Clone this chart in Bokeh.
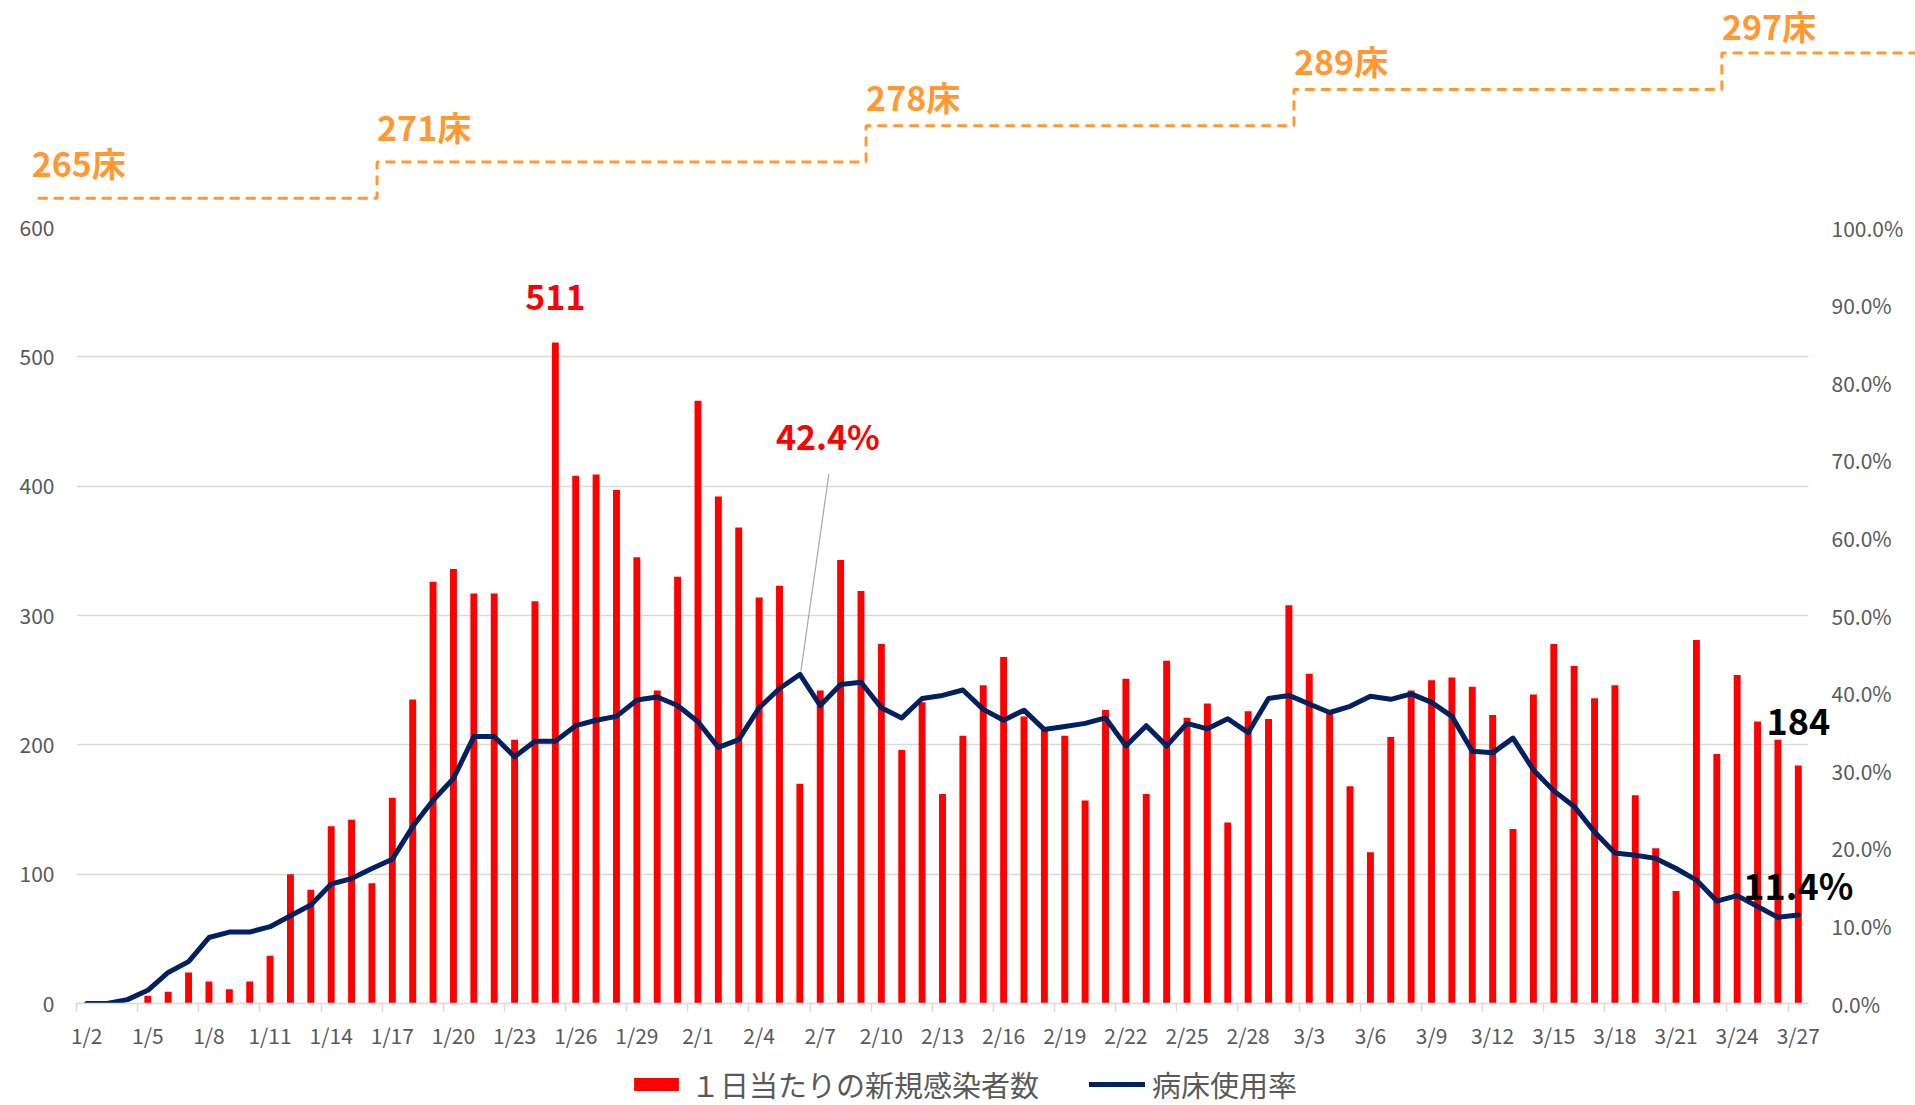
import pandas as pd
from bokeh.plotting import figure
from bokeh.models import (Range1d, LinearAxis, FixedTicker, NumeralTickFormatter,
                          Label, Legend, LegendItem, Grid, BoxAnnotation)
from bokeh.layouts import column
from bokeh.embed import file_html
from bokeh.resources import INLINE
from bokeh.core.properties import value

# ---------------- data ----------------
dates = [f"{d.month}/{d.day}" for d in pd.date_range("2021-01-02", "2021-03-27")]

new_cases = [0, 0, 0, 6, 9, 24, 17, 11, 17, 37,
             100, 88, 137, 142, 93, 159, 235, 326, 336, 317,
             317, 204, 311, 511, 408, 409, 397, 345, 242, 330,
             466, 392, 368, 314, 323, 170, 242, 343, 319, 278,
             196, 233, 162, 207, 246, 268, 222, 212, 207, 157,
             227, 251, 162, 265, 221, 232, 140, 226, 220, 308,
             255, 224, 168, 117, 206, 242, 250, 252, 245, 223,
             135, 239, 278, 261, 236, 246, 161, 120, 87, 281,
             193, 254, 218, 204, 184]

bed_rate = [0.0, 0.0, 0.5, 1.7, 4.0, 5.4, 8.5, 9.2, 9.2, 9.9,
            11.3, 12.7, 15.4, 16.1, 17.4, 18.6, 22.8, 26.2, 29.0, 34.4,
            34.4, 31.8, 33.8, 33.8, 35.8, 36.5, 37.0, 39.1, 39.5, 38.4,
            36.3, 33.0, 34.0, 38.1, 40.6, 42.4, 38.4, 41.1, 41.4, 38.1,
            36.8, 39.3, 39.7, 40.4, 37.9, 36.5, 37.8, 35.3, 35.7, 36.1,
            36.8, 33.2, 35.8, 33.2, 36.1, 35.4, 36.7, 34.9, 39.3, 39.7,
            38.6, 37.5, 38.3, 39.6, 39.2, 39.9, 38.8, 37.0, 32.5, 32.3,
            34.2, 30.1, 27.4, 25.4, 22.1, 19.4, 19.1, 18.7, 17.4, 15.9,
            13.2, 13.9, 12.5, 11.1, 11.4]

bed_counts = [265, 271, 278, 289, 297]
bed_change_dates = ["1/17", "2/10", "3/3", "3/24"]

left_ticks = [0, 100, 200, 300, 400, 500, 600]
right_ticks = [0.0, 0.1, 0.2, 0.3, 0.4, 0.5, 0.6, 0.7, 0.8, 0.9, 1.0]
tick_step = 3

series_bar = "１日当たりの新規感染者数"
series_line = "病床使用率"

# ---------------- style / layout ----------------
FONT = "Noto Sans CJK JP"
RED = "#FF0000"
NAVY = "#002060"
ORANGE = "#FF9933"
GRAY_TXT = "#595959"
GRID = "#D9D9D9"

W = 1915
TOP_H = 205          # strip with the bed-count steps
MAIN_H = 847
LEG_H = 53           # strip with the legend
FRAME_LEFT, FRAME_RIGHT = 76, 1808        # plot area (category axis extent)
FRAME_TOP, FRAME_H = 227, 778
EXTRA_RIGHT = 52     # extra frame room for the end labels
n = len(dates)
idx = list(range(n))
px_day = (FRAME_RIGHT - FRAME_LEFT) / n
x_hi = n - 0.5 + EXTRA_RIGHT / px_day
step_label_dy = [-36, -36, -29, -29, -28]

# ---------------- main chart ----------------
p = figure(width=W, height=MAIN_H, x_range=Range1d(-0.5, x_hi), y_range=Range1d(0, 600),
           output_backend="svg", toolbar_location=None, x_axis_type=None, y_axis_type=None,
           min_border_left=FRAME_LEFT, min_border_right=W - FRAME_RIGHT - EXTRA_RIGHT,
           min_border_top=FRAME_TOP - TOP_H,
           min_border_bottom=MAIN_H - (FRAME_TOP - TOP_H) - FRAME_H)
p.outline_line_color = None
p.frame_align = False
p.extra_y_ranges = {"pct": Range1d(0, 1)}

yl = LinearAxis(ticker=FixedTicker(ticks=left_ticks), axis_line_color=None,
                major_tick_line_color=None, minor_tick_line_color=None,
                major_label_standoff=16, major_label_text_font_size="21px",
                major_label_text_color=GRAY_TXT, major_label_text_font=FONT)
p.add_layout(yl, "left")
yr = LinearAxis(y_range_name="pct", ticker=FixedTicker(ticks=right_ticks),
                formatter=NumeralTickFormatter(format="0.0%"), axis_line_color=None,
                major_tick_line_color=None, minor_tick_line_color=None,
                major_label_standoff=17 - EXTRA_RIGHT, major_label_text_font_size="21px",
                major_label_text_color=GRAY_TXT, major_label_text_font=FONT)
p.add_layout(yr, "right")

label_idx = list(range(0, n, tick_step))
xa = LinearAxis(ticker=FixedTicker(ticks=label_idx, minor_ticks=[i - 0.5 for i in label_idx]),
                major_label_overrides={i: dates[i] for i in label_idx},
                bounds=(-0.5, n - 0.5),
                axis_line_color=GRID, axis_line_width=1.5,
                major_tick_line_color=None, major_tick_out=0, major_tick_in=0,
                minor_tick_line_color=GRID, minor_tick_line_width=1.5,
                minor_tick_out=8, minor_tick_in=0,
                major_label_standoff=8, major_label_text_font_size="21px",
                major_label_text_color=GRAY_TXT, major_label_text_font=FONT)
p.add_layout(xa, "below")

p.add_layout(Grid(dimension=1, ticker=yl.ticker, grid_line_color=GRID, grid_line_width=1.5))
# plot area ends after the last category: blank out the extra label room
p.add_layout(BoxAnnotation(left=n - 0.5, fill_color="white", fill_alpha=1.0,
                           line_color=None, level="underlay"))

bar_style = dict(width=0.34, fill_color=RED, line_color=None)
line_style = dict(line_color=NAVY, line_width=5, line_join="round", line_cap="round")
bars = p.vbar(x=idx, top=new_cases, **bar_style)
line = p.line(x=idx, y=[r / 100 for r in bed_rate], y_range_name="pct", **line_style)

# data labels
imax = new_cases.index(max(new_cases))
p.add_layout(Label(x=imax, y=new_cases[imax], text=str(new_cases[imax]), y_offset=45,
                   text_align="center", text_baseline="middle", text_color=RED,
                   text_font=FONT, text_font_size="34px", text_font_style="bold"))
p.add_layout(Label(x=n - 1, y=new_cases[-1], text=str(new_cases[-1]), y_offset=44,
                   text_align="center", text_baseline="middle", text_color="#000000",
                   text_font=FONT, text_font_size="36px", text_font_style="bold"))
rmax = bed_rate.index(max(bed_rate))
p.add_layout(Label(x=rmax, y=bed_rate[rmax] / 100, y_range_name="pct",
                   text=f"{bed_rate[rmax]:.1f}%", x_offset=28, y_offset=239,
                   text_align="center", text_baseline="middle", text_color=RED,
                   text_font=FONT, text_font_size="34px", text_font_style="bold"))
p.segment(x0=[rmax + 1 / px_day], y0=[bed_rate[rmax] / 100 + 3 / FRAME_H],
          x1=[rmax + 29 / px_day], y1=[bed_rate[rmax] / 100 + 201 / FRAME_H],
          y_range_name="pct", line_color="#A6A6A6", line_width=1.2)
p.add_layout(Label(x=n - 1, y=bed_rate[-1] / 100, y_range_name="pct",
                   text=f"{bed_rate[-1]:.1f}%", y_offset=31,
                   text_align="center", text_baseline="middle", text_color="#000000",
                   text_font=FONT, text_font_size="36px", text_font_style="bold"))

# ---------------- legend strip ----------------
# the same series drawn out of view, only to supply legend swatches
lg = figure(width=W, height=LEG_H, x_range=Range1d(-20, -10), y_range=Range1d(0, 1),
            output_backend="svg", toolbar_location=None, x_axis_type=None, y_axis_type=None,
            min_border=0)
lg.outline_line_color = None
lg.frame_align = False
lg.xgrid.visible = False
lg.ygrid.visible = False
lbar = lg.vbar(x=idx, top=new_cases, **bar_style)
lline = lg.line(x=idx, y=[r / 100 for r in bed_rate], **line_style)
legend = Legend(items=[LegendItem(label=series_bar, renderers=[lbar]),
                       LegendItem(label=series_line, renderers=[lline])],
                orientation="horizontal", location=(628, 0),
                glyph_width=56, glyph_height=16, label_standoff=7, spacing=50,
                label_text_font=FONT, label_text_font_size="29px",
                label_text_color=GRAY_TXT, border_line_color=None,
                background_fill_alpha=0, padding=0, margin=0)
lg.add_layout(legend, "center")

# ---------------- bed-count step line (above the chart) ----------------
x0 = -0.5 - FRAME_LEFT / px_day
x1 = x0 + W / px_day
lvl_px = 36.3
lvl0_px = 197.8  # distance from top of the page to step level 0
y_top = lvl0_px / lvl_px
y_bot = -(TOP_H - lvl0_px) / lvl_px
t = figure(width=W, height=TOP_H, x_range=Range1d(x0, x1), y_range=Range1d(y_bot, y_top),
           output_backend="svg", toolbar_location=None, x_axis_type=None, y_axis_type=None,
           min_border=0)
t.outline_line_color = None
t.frame_align = False
t.xgrid.visible = False
t.ygrid.visible = False

changes = [dates.index(d) - 0.75 for d in bed_change_dates]
start = -2.4
end = x1 + 1
sx, sy = [start], [0]
for k, c in enumerate(changes):
    sx += [c, c]
    sy += [k, k + 1]
sx.append(end)
sy.append(len(changes))
t.line(x=sx, y=sy, line_color=ORANGE, line_width=3, line_dash="10 6")

seg_starts = [start - 0.3] + changes
t.text(x=seg_starts, y=list(range(len(bed_counts))), text=[f"{b}床" for b in bed_counts],
       y_offset=step_label_dy, text_align="left", text_baseline="middle", text_color=ORANGE,
       text_font=value(FONT), text_font_size="34px", text_font_style="bold")

layout = column(t, p, lg)
open("out.html", "w").write(file_html(layout, INLINE))
